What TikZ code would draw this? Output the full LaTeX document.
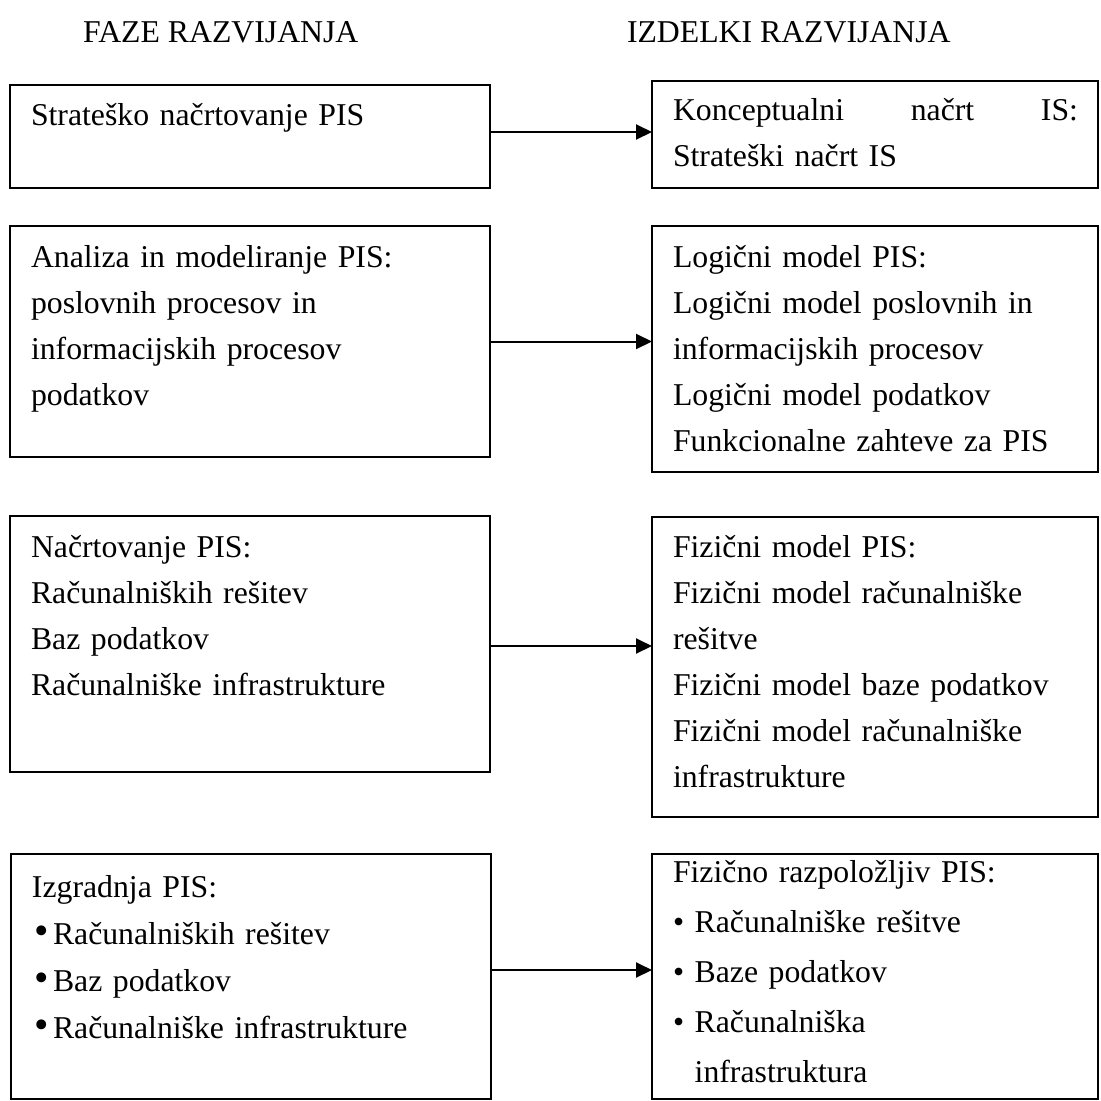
\documentclass[tikz,border=0pt]{standalone}
\usepackage{fontspec}
\setmainfont{Liberation Serif}
\usepackage{graphicx}
\usetikzlibrary{arrows.meta,positioning}

\newcommand{\bigdot}{\makebox[8.4pt][l]{\hspace{0.8pt}\scalebox{1.3}{\textbullet}}}

\begin{document}
\begin{tikzpicture}[
    x=0.4pt, y=-0.4pt,
    every node/.style={font=\fontsize{12.7}{18.4}\selectfont, inner sep=0pt, outer sep=0pt},
    stagebox/.style={draw, line width=0.8pt, anchor=north west, minimum width=192pt},
    prodbox/.style={draw, line width=0.8pt, anchor=north west, minimum width=178.4pt},
    boxtext/.style={anchor=base west, text width=172pt},
    head/.style={anchor=base west},
    flow/.style={draw, line width=0.8pt, -{Triangle[length=6.4pt,width=6pt]}}
]
    \useasboundingbox (0,0) rectangle (1101,1101);

    % Column titles
    \node[head] (fazeT) at (83,42) {FAZE RAZVIJANJA};
    \node[head] (izdT) at (627,42) {IZDELKI RAZVIJANJA};

    % Phases
    \node[stagebox, minimum height=41.2pt] (faza1) at (10,85) {};
    \node[stagebox, minimum height=92.4pt] (faza2) at (10,226) {};
    \node[stagebox, minimum height=102.4pt] (faza3) at (10,516) {};
    \node[stagebox, minimum height=98pt] (faza4) at (11,854) {};

    \node[boxtext] (tfaza1) at ([shift={(21,40)}]faza1.north west) {Strateško načrtovanje PIS};
    \node[boxtext] (tfaza2) at ([shift={(21,41)}]faza2.north west)
        {Analiza in modeliranje PIS:\\poslovnih procesov in\\informacijskih procesov\\podatkov};
    \node[boxtext] (tfaza3) at ([shift={(21,41)}]faza3.north west)
        {Načrtovanje PIS:\\Računalniških rešitev\\Baz podatkov\\Računalniške infrastrukture};
    \node[boxtext, font=\fontsize{12.7}{18.8}\selectfont] (tfaza4) at ([shift={(21,43)}]faza4.north west)
        {Izgradnja PIS:\\\bigdot Računalniških rešitev\\\bigdot Baz podatkov\\\bigdot Računalniške infrastrukture};

    % Products
    \node[prodbox, minimum height=42.8pt] (izd1) at (652,81) {};
    \node[prodbox, minimum height=98.4pt] (izd2) at (652,226) {};
    \node[prodbox, minimum height=120pt] (izd3) at (652,517) {};
    \node[prodbox, minimum height=98pt] (izd4) at (652,854) {};

    \node[boxtext] (tizd1) at ([shift={(21,39)}]izd1.north west)
        {\makebox[162pt][l]{Konceptualni\hfill načrt\hfill IS:}\\Strateški načrt IS};
    \node[boxtext] (tizd2) at ([shift={(21,41)}]izd2.north west)
        {Logični model PIS:\\Logični model poslovnih in\\informacijskih procesov\\Logični model podatkov\\Funkcionalne zahteve za PIS};
    \node[boxtext] (tizd3) at ([shift={(21,40)}]izd3.north west)
        {Fizični model PIS:\\Fizični model računalniške\\rešitve\\Fizični model baze podatkov\\Fizični model računalniške\\infrastrukture};
    \node[boxtext, font=\fontsize{12.7}{20}\selectfont] (tizd4) at ([shift={(21,28)}]izd4.north west)
        {Fizično razpoložljiv PIS:\\\textbullet\ Računalniške rešitve\\\textbullet\ Baze podatkov\\\textbullet\ Računalniška\\\hphantom{\textbullet\ }infrastruktura};

    % Arrows
    \draw[flow] ([yshift=1.8pt]faza1.east) -- ([yshift=1.8pt]faza1.east -| izd1.west);
    \draw[flow] (faza2.east) -- (faza2.east -| izd2.west);
    \draw[flow] ([yshift=-0.8pt]faza3.east) -- ([yshift=-0.8pt]faza3.east -| izd3.west);
    \draw[flow] ([yshift=2.6pt]faza4.east) -- ([yshift=2.6pt]faza4.east -| izd4.west);
\end{tikzpicture}
\end{document}
